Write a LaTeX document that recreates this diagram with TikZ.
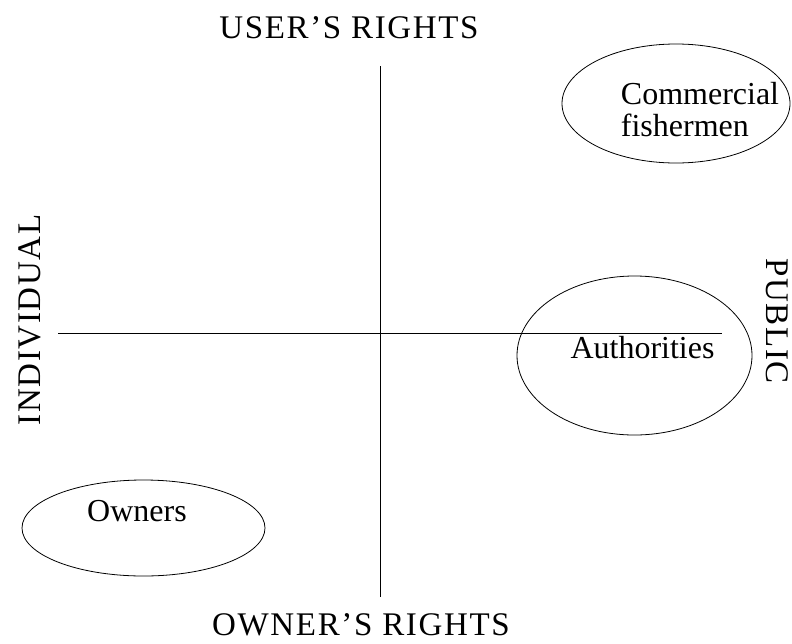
\documentclass[tikz,border=0pt]{standalone}
\usepackage{fontspec}
\setmainfont{Liberation Serif}
\newfontfamily\trackfont[LetterSpace=5]{Liberation Serif}
\usetikzlibrary{shapes.geometric}
\begin{document}
\begin{tikzpicture}[x=1pt,y=-1pt,
  axis/.style={draw=black,line width=0.8pt},
  group/.style={draw=black,line width=0.8pt,ellipse,inner sep=0pt},
  headlabel/.style={inner sep=0pt,font=\trackfont\fontsize{33}{33}\selectfont},
  grouplabel/.style={inner sep=0pt,font=\fontsize{32}{32}\selectfont}]
\useasboundingbox (0,0) rectangle (792,643);
% axes
\coordinate (hl) at (58,333);
\coordinate (hr) at (722,333);
\coordinate (vt) at (380,66);
\coordinate (vb) at (380,597);
\draw[axis] (hl) -- (hr);
\draw[axis] (vt) -- (vb);
% axis labels
\node[headlabel,anchor=base] (user) at (349,38) {USER’S RIGHTS};
\node[headlabel,anchor=base] (owner) at (361,635) {OWNER’S RIGHTS};
\node[headlabel,anchor=base,rotate=90] (indiv) at (40,320) {INDIVIDUAL};
\node[headlabel,anchor=base,rotate=-90] (public) at (766,321) {PUBLIC};
% groups
\node[group,minimum width=228pt,minimum height=119pt] (comm) at (676,103.5) {};
\node[grouplabel,align=left] (commt) at (700,110) {Commercial\\fishermen};
\node[group,minimum width=235pt,minimum height=159pt] (auth) at (634.5,355.5) {};
\node[grouplabel,anchor=base] (autht) at (642.5,358) {Authorities};
\node[group,minimum width=243pt,minimum height=96pt] (own) at (143.5,528) {};
\node[grouplabel,anchor=base] (ownt) at (137,521) {Owners};
\end{tikzpicture}
\end{document}
